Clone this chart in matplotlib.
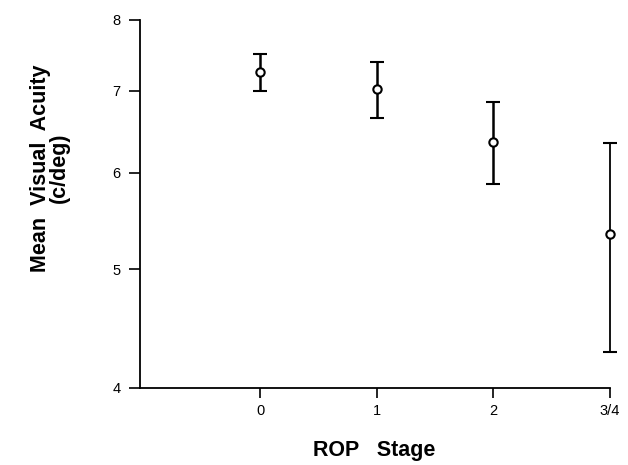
import numpy as np
import matplotlib.pyplot as plt
from matplotlib.ticker import FixedLocator, NullLocator, FixedFormatter

plt.rcParams['font.family'] = ['Liberation Sans', 'DejaVu Sans']

# Daten
stage_labels = ['0', '1', '2', '3/4']
stage_pos = [0, 1, 2, 3]
mean_acuity = [7.26, 7.02, 6.36, 5.34]
err_low = [0.26, 0.37, 0.49, 1.06]
err_high = [0.24, 0.37, 0.49, 1.01]
y_ticks = [4, 5, 6, 7, 8]

fig = plt.figure(figsize=(6.28, 4.65), dpi=100)
ax = fig.add_axes([0.223, 0.166, 0.748, 0.791])

# die ersten drei Balken dicker, der letzte dünner (wie im Original)
ax.errorbar(stage_pos[:3], mean_acuity[:3], yerr=[err_low[:3], err_high[:3]],
            fmt='o', color='black', ecolor='black', elinewidth=1.8, capsize=5,
            capthick=1.8, markersize=6, markerfacecolor='white',
            markeredgecolor='black', markeredgewidth=1.5, clip_on=False)
ax.errorbar(stage_pos[3:], mean_acuity[3:], yerr=[err_low[3:], err_high[3:]],
            fmt='o', color='black', ecolor='black', elinewidth=1.3, capsize=5,
            capthick=1.8, markersize=6, markerfacecolor='white',
            markeredgecolor='black', markeredgewidth=1.5, clip_on=False)

ax.set_yscale('log')
ax.set_ylim(4, 8)
ax.yaxis.set_major_locator(FixedLocator(y_ticks))
ax.yaxis.set_major_formatter(FixedFormatter([str(t) for t in y_ticks]))
ax.yaxis.set_minor_locator(NullLocator())
ax.set_xlim(-1.03, 3)
ax.set_xticks(stage_pos)
ax.set_xticklabels(stage_labels)

for s in ['top', 'right']:
    ax.spines[s].set_visible(False)
for s in ['left', 'bottom']:
    ax.spines[s].set_linewidth(1.3)

ax.tick_params(axis='y', direction='out', length=8, width=1.2,
               labelsize=10.5, pad=6)
ax.tick_params(axis='x', direction='out', length=7, width=1.2,
               labelsize=10.5, pad=5)

ax.set_ylabel('Mean  Visual  Acuity\n(c/deg)', fontsize=15.5, fontweight='bold',
              linespacing=0.9)
ax.yaxis.set_label_coords(-0.149, 0.598)
ax.set_xlabel('ROP   Stage', fontsize=15.5, fontweight='bold')
ax.xaxis.set_label_coords(0.498, -0.141)

fig.savefig('out.png', dpi=100)
